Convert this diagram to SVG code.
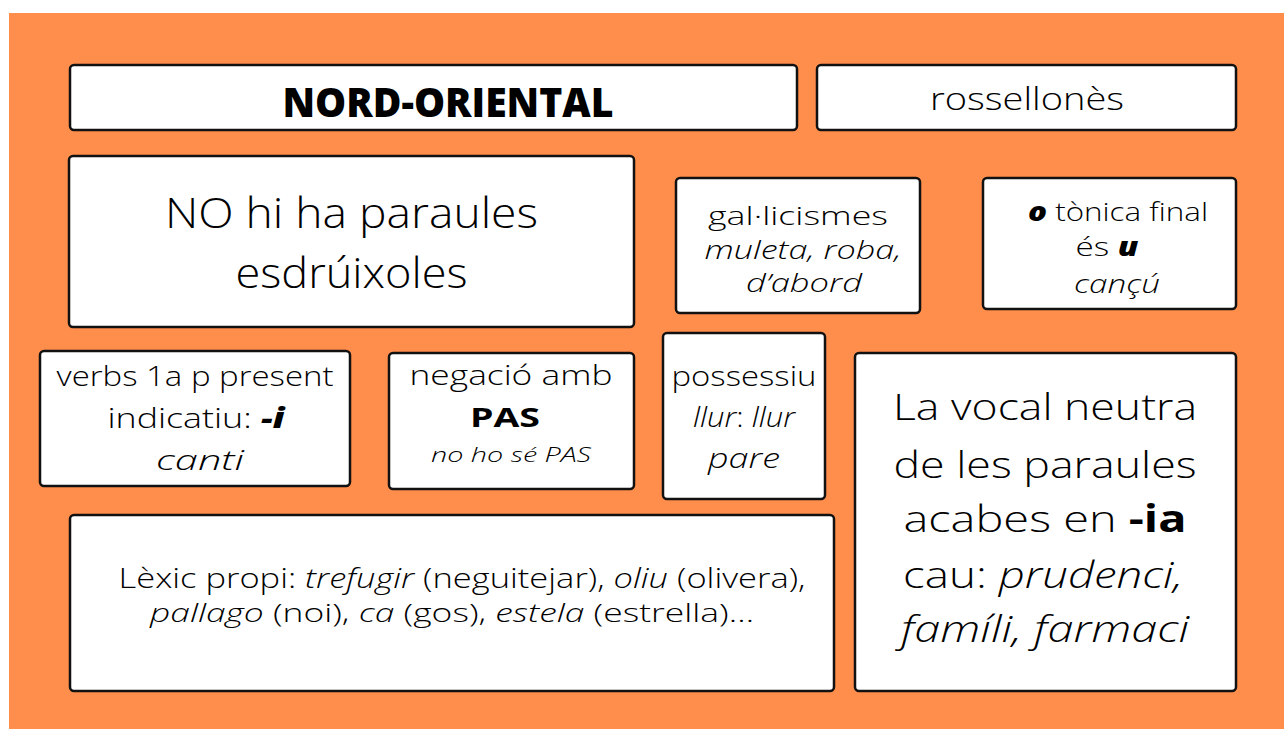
<svg xmlns="http://www.w3.org/2000/svg" width="1284" height="729" viewBox="0 0 1284 729">
<style>
.bg{fill:#ff8d4c}
.box{fill:#ffffff;stroke:#111;stroke-width:2.5}
text{font-family:"Open Sans","Liberation Sans",sans-serif;fill:#000;text-anchor:middle;font-weight:300}
.i{font-style:italic}
.b{font-weight:700}
.bi{font-weight:800;font-style:italic}
</style>
<rect x="0" y="0" width="1284" height="729" fill="#ffffff"/>
<rect class="bg" x="9" y="13" width="1275" height="716"/>

<g id="n1">
<rect class="box" x="70" y="65" width="727" height="65" rx="4"/>
<text x="448" y="117" font-size="40" style="font-weight:800" textLength="331" lengthAdjust="spacingAndGlyphs">NORD-ORIENTAL</text>
</g>
<g id="n2">
<rect class="box" x="817" y="65" width="419" height="65" rx="4"/>
<text x="1027" y="110" font-size="32" textLength="194" lengthAdjust="spacingAndGlyphs">rossellonès</text>
</g>
<g id="n3">
<rect class="box" x="69" y="156" width="565" height="171" rx="4"/>
<text x="351.5" y="228" font-size="43" textLength="373" lengthAdjust="spacingAndGlyphs">NO hi ha paraules</text>
<text x="351.5" y="288" font-size="43" textLength="232" lengthAdjust="spacingAndGlyphs">esdrúixoles</text>
</g>
<g id="n4">
<rect class="box" x="676" y="178" width="244" height="135" rx="4"/>
<text x="798" y="225" font-size="25" textLength="180" lengthAdjust="spacingAndGlyphs">gal·licismes</text>
<text x="803" y="259" font-size="25" class="i" textLength="197" lengthAdjust="spacingAndGlyphs">muleta, roba,</text>
<text x="804" y="292" font-size="25" class="i" textLength="116" lengthAdjust="spacingAndGlyphs">d’abord</text>
</g>
<g id="n5">
<rect class="box" x="983" y="178" width="253" height="131" rx="4"/>
<text x="1118" y="221" font-size="26" textLength="180" lengthAdjust="spacingAndGlyphs"><tspan class="bi">o</tspan> tònica final</text>
<text x="1107" y="256" font-size="26" textLength="63" lengthAdjust="spacingAndGlyphs">és <tspan class="bi">u</tspan></text>
<text x="1117" y="293" font-size="26" class="i" textLength="86" lengthAdjust="spacingAndGlyphs">cançú</text>
</g>
<g id="n6">
<rect class="box" x="40" y="351" width="310" height="135" rx="4"/>
<text x="195" y="386" font-size="28" textLength="277" lengthAdjust="spacingAndGlyphs">verbs 1a p present</text>
<text x="196" y="428" font-size="28" textLength="177" lengthAdjust="spacingAndGlyphs">indicatiu: <tspan class="bi">-i</tspan></text>
<text x="200" y="470" font-size="28" class="i" textLength="88" lengthAdjust="spacingAndGlyphs">canti</text>
</g>
<g id="n7">
<rect class="box" x="389" y="353" width="245" height="136" rx="4"/>
<text x="511" y="385" font-size="28" textLength="203" lengthAdjust="spacingAndGlyphs">negació amb</text>
<text x="505" y="427" font-size="26" class="b" textLength="70" lengthAdjust="spacingAndGlyphs">PAS</text>
<text x="511" y="462" font-size="20" class="i" textLength="160" lengthAdjust="spacingAndGlyphs">no ho sé PAS</text>
</g>
<g id="n8">
<rect class="box" x="663" y="333" width="162" height="166" rx="4"/>
<text x="744" y="386" font-size="28" textLength="145" lengthAdjust="spacingAndGlyphs">possessiu</text>
<text x="744" y="427" font-size="28" textLength="102" lengthAdjust="spacingAndGlyphs"><tspan class="i">llur</tspan>: <tspan class="i">llur</tspan></text>
<text x="744" y="468" font-size="28" class="i" textLength="72" lengthAdjust="spacingAndGlyphs">pare</text>
</g>
<g id="n9">
<rect class="box" x="855" y="353" width="381" height="338" rx="4"/>
<text x="1045" y="420" font-size="37" textLength="304" lengthAdjust="spacingAndGlyphs">La vocal neutra</text>
<text x="1045" y="478" font-size="37" textLength="303" lengthAdjust="spacingAndGlyphs">de les paraules</text>
<text x="1045" y="532" font-size="37" textLength="283" lengthAdjust="spacingAndGlyphs">acabes en <tspan class="b">-ia</tspan></text>
<text x="1043" y="588" font-size="37" textLength="280" lengthAdjust="spacingAndGlyphs">cau: <tspan class="i">prudenci,</tspan></text>
<text x="1045" y="642" font-size="37" class="i" textLength="288" lengthAdjust="spacingAndGlyphs">famíli, farmaci</text>
</g>
<g id="n10">
<rect class="box" x="70" y="515" width="764" height="176" rx="4"/>
<text x="462" y="588" font-size="27" textLength="687" lengthAdjust="spacingAndGlyphs">Lèxic propi: <tspan class="i">trefugir</tspan> (neguitejar), <tspan class="i">oliu</tspan> (olivera),</text>
<text x="452" y="622" font-size="26" textLength="604" lengthAdjust="spacingAndGlyphs"><tspan class="i">pallago</tspan> (noi), <tspan class="i">ca</tspan> (gos), <tspan class="i">estela</tspan> (estrella)…</text>
</g>
<g id="connectors"></g>
</svg>
